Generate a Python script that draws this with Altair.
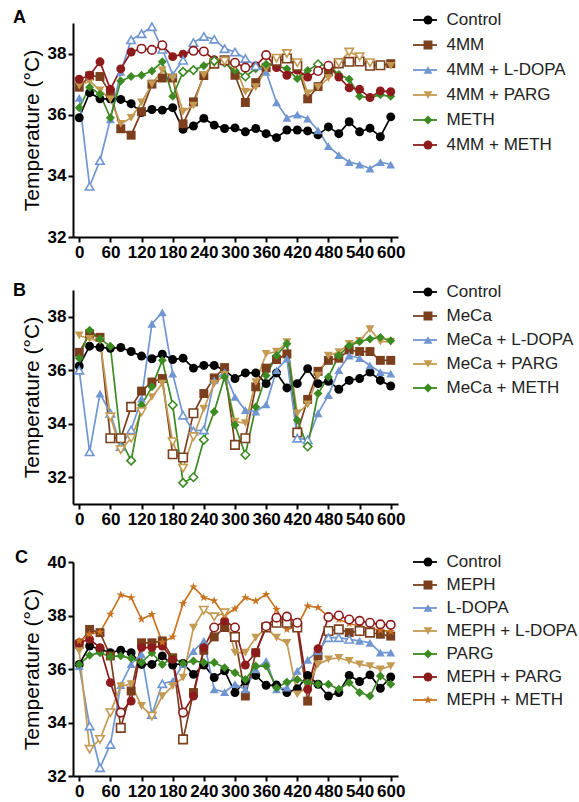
import altair as alt
import pandas as pd

TIMES = list(range(0, 601, 20))
X_TICKS = list(range(0, 601, 60))

BLACK = "#000000"
BROWN = "#7B3F1E"
BLUE = "#7096D2"
TAN = "#C49A52"
GREEN = "#3B8A22"
DARKRED = "#8E1B1B"
ORANGE = "#C87420"
STAR = ("M0,-1L0.235,-0.324L0.951,-0.309L0.380,0.124L0.588,0.809L0,0.4"
        "L-0.588,0.809L-0.380,0.124L-0.951,-0.309L-0.235,-0.324Z")

# ---------------- Panel A ----------------
A_SERIES = ["Control", "4MM", "4MM + L-DOPA", "4MM + PARG", "METH", "4MM + METH"]
A_COLORS = [BLACK, BROWN, BLUE, TAN, GREEN, DARKRED]
A_SHAPES = ["circle", "square", "triangle-up", "triangle-down", "diamond", "circle"]
A_CONTROL = [35.90, 36.72, 36.52, 36.52, 36.50, 36.36, 36.07, 36.17, 36.15, 36.23, 35.52, 35.63, 35.88, 35.66, 35.55, 35.57, 35.44, 35.55, 35.38, 35.25, 35.50, 35.50, 35.47, 35.34, 35.60, 35.38, 35.77, 35.44, 35.56, 35.28, 35.93]
A_4MM = [36.9, 37.27, 37.25, 36.7, 35.54, 35.33, 36.1, 37.0, 37.2, 37.2, 35.7, 36.42, 37.28, 37.67, 37.78, 37.29, 36.4, 37.05, 37.54, 37.76, 37.84, 37.6, 36.52, 36.92, 37.4, 37.68, 37.73, 37.74, 37.6, 37.62, 37.67]
A_LDOPA = [36.55, 33.66, 34.5, 35.85, 37.4, 38.45, 38.65, 38.88, 38.14, 37.32, 37.78, 38.36, 38.56, 38.47, 38.16, 38.05, 37.84, 37.6, 37.4, 36.4, 35.9, 36.0, 35.87, 35.49, 34.97, 34.68, 34.45, 34.37, 34.24, 34.45, 34.37]
A_PARG = [36.95, 37.1, 36.8, 36.5, 35.7, 35.9, 36.4, 37.0, 37.45, 37.2, 36.1, 36.3, 37.3, 37.7, 37.75, 37.6, 36.75, 36.9, 37.5, 37.85, 38.0, 37.7, 36.7, 36.9, 37.2, 37.7, 38.05, 37.9, 37.7, 37.6, 37.6]
A_METH = [36.23, 36.9, 36.67, 35.9, 37.1, 37.25, 37.29, 37.43, 37.73, 36.6, 37.4, 37.46, 37.6, 37.76, 37.68, 37.45, 37.25, 37.5, 37.65, 37.6, 37.5, 37.18, 37.45, 37.65, 37.6, 37.32, 37.16, 36.6, 36.56, 36.65, 36.6]
A_4MM_METH = [37.16, 37.29, 37.73, 36.83, 37.5, 38.05, 38.16, 38.12, 38.27, 37.9, 37.98, 38.09, 38.07, 37.8, 37.76, 37.7, 37.54, 37.6, 37.95, 37.54, 37.29, 37.46, 37.23, 37.43, 37.6, 37.23, 36.88, 36.83, 36.56, 36.78, 36.75]
A_VALUES = [A_CONTROL, A_4MM, A_LDOPA, A_PARG, A_METH, A_4MM_METH]
# indices (time / 20) of open (hollow) markers
A_OPEN = [[], [13, 14, 19, 20, 21, 25, 26, 27, 28, 29],
          [1, 2, 5, 6, 7, 8, 10, 11, 12, 13, 14, 15, 16, 17],
          [13, 14, 15, 19, 20, 21, 25, 26, 27, 28],
          [10, 11, 13, 16, 23],
          [6, 7, 8, 11, 12, 15, 16, 18, 23, 24]]

# ---------------- Panel B ----------------
B_SERIES = ["Control", "MeCa", "MeCa + L-DOPA", "MeCa + PARG", "MeCa + METH"]
B_COLORS = [BLACK, BROWN, BLUE, TAN, GREEN]
B_SHAPES = ["circle", "square", "triangle-up", "triangle-down", "diamond"]
B_CONTROL = [36.16, 36.9, 36.86, 36.82, 36.85, 36.7, 36.53, 36.43, 36.6, 36.4, 36.45, 36.08, 36.18, 36.18, 36.0, 35.69, 35.9, 35.9, 35.5, 35.9, 35.34, 35.5, 36.06, 35.5, 35.59, 35.29, 35.62, 35.69, 35.93, 35.62, 35.41]
B_MECA = [36.67, 37.36, 37.23, 33.46, 33.46, 34.63, 35.22, 35.56, 35.69, 32.86, 32.74, 34.39, 35.13, 35.71, 36.1, 33.21, 33.46, 35.38, 36.08, 36.4, 36.61, 33.67, 34.91, 35.96, 36.37, 36.45, 36.76, 36.7, 36.7, 36.37, 36.37]
B_LDOPA = [36.0, 32.95, 35.13, 34.39, 33.15, 33.77, 34.94, 37.73, 38.16, 35.87, 34.32, 33.73, 33.77, 35.62, 35.93, 35.0, 34.51, 34.45, 34.72, 36.0, 36.43, 33.46, 33.4, 34.39, 35.07, 36.0, 36.55, 36.45, 36.18, 35.93, 35.87]
B_PARG = [37.3, 37.17, 37.1, 34.26, 33.03, 33.46, 34.45, 35.0, 35.5, 33.33, 32.34, 33.52, 34.57, 35.5, 35.83, 34.08, 34.02, 35.56, 36.61, 36.7, 37.05, 34.39, 34.72, 35.8, 36.55, 36.68, 36.99, 37.1, 37.54, 37.07, 37.07]
B_METH = [36.45, 37.5, 37.17, 36.9, 33.4, 32.62, 34.7, 35.38, 36.37, 34.7, 31.79, 32.0, 33.4, 34.45, 35.75, 33.95, 32.84, 34.63, 35.8, 36.55, 36.99, 34.14, 33.15, 35.13, 35.75, 36.55, 36.92, 37.07, 37.17, 37.23, 37.1]
B_VALUES = [B_CONTROL, B_MECA, B_LDOPA, B_PARG, B_METH]
B_OPEN = [[], [3, 4, 5, 9, 10, 11, 15, 16, 21],
          [0, 1, 3, 4, 5, 10, 11, 12, 21, 22],
          [3, 4, 5, 6, 9, 10, 11],
          [5, 9, 10, 11, 12, 16, 22]]

# ---------------- Panel C ----------------
C_SERIES = ["Control", "MEPH", "L-DOPA", "MEPH + L-DOPA", "PARG", "MEPH + PARG", "MEPH + METH"]
C_COLORS = [BLACK, BROWN, BLUE, TAN, GREEN, DARKRED, ORANGE]
C_SHAPES = ["circle", "square", "triangle-up", "triangle-down", "diamond", "circle", STAR]
C_CONTROL = [36.17, 36.86, 36.74, 36.61, 36.7, 36.61, 36.17, 36.17, 36.49, 36.15, 36.21, 35.8, 36.15, 35.68, 35.93, 35.12, 35.55, 35.76, 35.39, 35.4, 35.12, 35.26, 35.76, 35.43, 34.99, 35.12, 35.76, 35.53, 35.78, 35.28, 35.7]
C_MEPH = [36.92, 37.48, 37.36, 36.49, 33.8, 35.18, 36.98, 36.98, 37.05, 36.42, 33.37, 35.12, 36.7, 37.2, 37.55, 37.2, 34.99, 36.61, 37.55, 37.73, 37.73, 37.55, 34.8, 36.49, 37.42, 37.48, 37.36, 37.42, 37.36, 37.3, 37.23]
C_LDOPA = [36.11, 33.87, 32.31, 33.18, 35.4, 36.18, 36.55, 34.3, 35.45, 35.55, 36.18, 36.67, 37.05, 35.24, 35.14, 35.43, 35.24, 35.99, 36.3, 35.24, 35.3, 35.93, 36.34, 36.67, 37.17, 37.17, 37.11, 37.05, 36.98, 36.61, 36.61]
C_MEPH_LDOPA = [36.67, 33.0, 33.37, 34.37, 35.36, 35.43, 34.62, 34.24, 34.99, 35.36, 35.68, 37.55, 38.2, 37.95, 38.1, 36.61, 36.61, 37.17, 37.55, 37.17, 36.98, 35.05, 35.36, 36.17, 36.36, 36.42, 36.3, 36.17, 36.11, 35.99, 36.11]
C_PARG = [36.17, 36.51, 36.61, 36.46, 36.49, 36.4, 36.24, 36.61, 36.17, 36.42, 36.21, 36.3, 36.24, 36.24, 36.05, 35.86, 35.61, 36.11, 36.11, 35.3, 35.51, 35.61, 35.49, 35.43, 35.43, 35.24, 35.49, 35.12, 34.99, 35.74, 35.43]
C_MEPH_PARG = [36.98, 37.11, 36.8, 35.49, 34.37, 34.8, 36.8, 36.8, 36.86, 36.36, 34.37, 34.99, 36.8, 37.55, 37.8, 37.55, 36.15, 36.61, 37.6, 37.92, 37.96, 37.73, 35.24, 36.76, 37.94, 38.0, 37.85, 37.8, 37.73, 37.67, 37.65]
C_MEPH_METH = [37.05, 37.3, 37.38, 38.05, 38.77, 38.67, 37.86, 38.04, 37.0, 37.2, 38.45, 39.07, 38.67, 38.55, 38.0, 38.25, 38.67, 38.54, 38.79, 38.23, 37.48, 37.6, 38.36, 38.3, 37.95, 37.85, 37.7, 37.6, 37.5, 37.45, 37.4]
C_VALUES = [C_CONTROL, C_MEPH, C_LDOPA, C_MEPH_LDOPA, C_PARG, C_MEPH_PARG, C_MEPH_METH]
C_OPEN = [[], [4, 10, 15, 18, 19, 20, 21, 24, 25, 27, 28],
          [1, 2, 3, 7, 8, 24, 25, 26],
          [1, 2, 3, 7, 12, 13, 14],
          [],
          [4, 10, 13, 15, 18, 19, 20, 21, 24, 25, 26, 27, 28, 29, 30],
          []]

FONT = "Liberation Sans"
PLOT_W = 325
PLOT_H = 214
PT_SIZE = 80


def panel(letter, series, colors, shapes, values, opens, ydomain, yticks,
          letter_x, letter_y, legend_y, row_pad):
    rows = []
    for name, vals, op in zip(series, values, opens):
        for i, (t, v) in enumerate(zip(TIMES, vals)):
            rows.append({"t": t, "temp": v, "series": name, "open": i in op})
    df = pd.DataFrame(rows)
    base = alt.Chart(df)
    x = alt.X("t:Q", scale=alt.Scale(domain=[-12, 614], nice=False, zero=False),
              axis=alt.Axis(values=X_TICKS, title=None, labelOverlap=False))
    y = alt.Y("temp:Q", scale=alt.Scale(domain=ydomain, nice=False, zero=False),
              axis=alt.Axis(values=yticks, title="Temperature (°C)", format="d"))

    line = base.mark_line(strokeWidth=1.7).encode(
        x=x, y=y,
        stroke=alt.Stroke("series:N", sort=series,
                          scale=alt.Scale(range=colors),
                          legend=alt.Legend(orient="none", legendX=PLOT_W + 14, legendY=legend_y,
                                            title=None, symbolType="stroke", symbolSize=576,
                                            symbolStrokeWidth=1.8, labelExpr="''",
                                            clipHeight=18, rowPadding=row_pad, padding=0)),
    )
    leg = alt.Legend(orient="none", legendX=PLOT_W + 14 + 7.5, legendY=legend_y, title=None,
                     symbolSize=PT_SIZE, labelFontSize=17, labelFont=FONT, labelColor="#222222",
                     labelOffset=10, clipHeight=18, rowPadding=row_pad, padding=0,
                     symbolStrokeWidth=0)
    cscale = alt.Scale(domain=series, range=colors)
    sscale = alt.Scale(domain=series, range=shapes)
    filled = base.transform_filter("!datum.open").mark_point(
        filled=True, size=PT_SIZE, opacity=1).encode(
        x=x, y=y,
        color=alt.Color("series:N", scale=cscale, legend=leg),
        shape=alt.Shape("series:N", scale=sscale, legend=leg),
    )
    hollow = base.transform_filter("datum.open").mark_point(
        filled=False, fill="white", fillOpacity=1, size=PT_SIZE - 8, strokeWidth=1.6, opacity=1).encode(
        x=x, y=y,
        color=alt.Color("series:N", scale=cscale, legend=None),
        shape=alt.Shape("series:N", scale=sscale, legend=None),
    )
    lab = alt.Chart(pd.DataFrame({"label": [letter]})).mark_text(
        align="left", baseline="alphabetic", fontSize=18, fontWeight="bold", font=FONT, color="black"
    ).encode(text="label:N", x=alt.value(letter_x), y=alt.value(letter_y))

    return alt.layer(line, filled, hollow, lab).resolve_scale(
        stroke="independent", color="shared", shape="shared"
    ).properties(width=PLOT_W, height=PLOT_H)


pA = panel("A", A_SERIES, A_COLORS, A_SHAPES, A_VALUES, A_OPEN, [32, 39], [32, 34, 36, 38],
           -60, 0, -12, 7)
pB = panel("B", B_SERIES, B_COLORS, B_SHAPES, B_VALUES, B_OPEN, [31, 39], [32, 34, 36, 38],
           -60, 6, -7, 6)
pC = panel("C", C_SERIES, C_COLORS, C_SHAPES, C_VALUES, C_OPEN, [32, 40], [32, 34, 36, 38, 40],
           -58, 1, -9, 5)

chart = alt.vconcat(pA, pB, pC, spacing=22).resolve_scale(
    color="independent", shape="independent", stroke="independent"
).properties(
    padding={"left": 13, "top": 9, "right": 0, "bottom": 0}
).configure_view(stroke=None).configure_axis(
    domainColor="black", domainWidth=2, tickColor="black", tickWidth=2, tickSize=5,
    labelFont=FONT, labelFontSize=17, labelFontWeight="bold", labelColor="black", labelPadding=2,
    titleFont=FONT, titleFontSize=21, titleFontWeight="normal", titleColor="black", titlePadding=5,
    grid=False,
)

chart.save("out.html", embed_options={"renderer": "svg", "actions": False})
